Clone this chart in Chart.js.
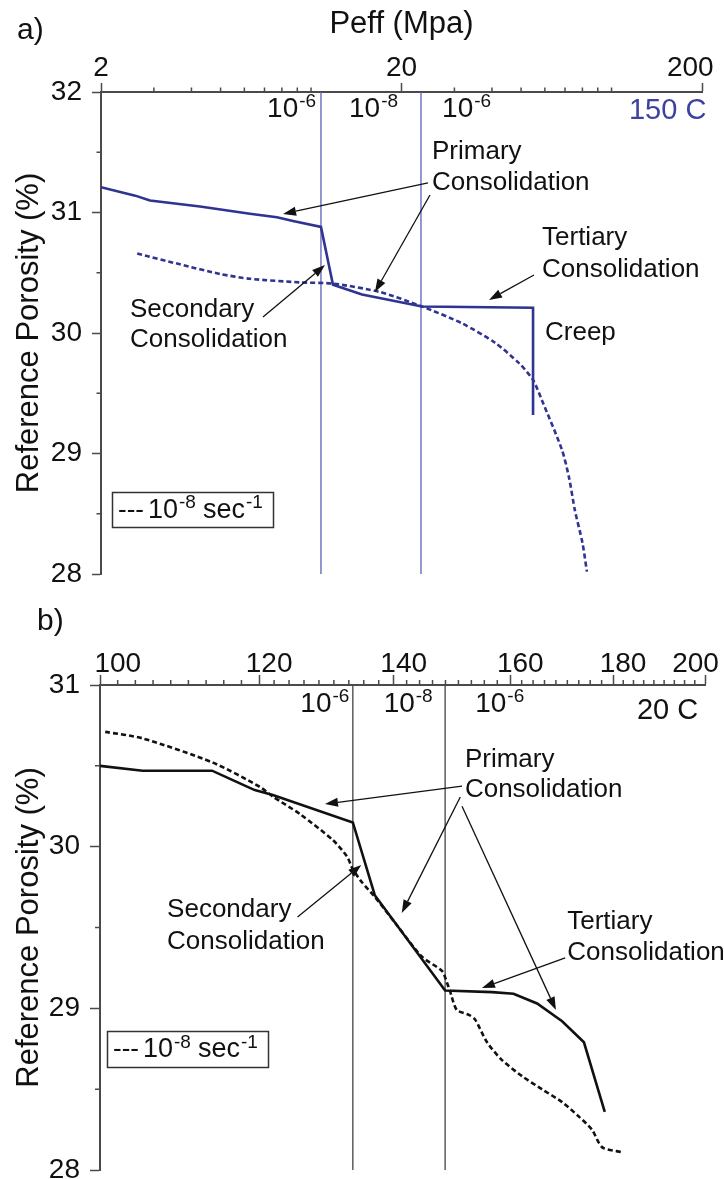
<!DOCTYPE html>
<html>
<head>
<meta charset="utf-8">
<script src="https://cdn.jsdelivr.net/npm/chart.js@4.4.1/dist/chart.umd.min.js"></script>
<style>
  html, body { margin: 0; padding: 0; background: #fff; }
  #wrap { width: 724px; height: 1179px; position: relative; overflow: hidden; }
  canvas { display: block; }
</style>
</head>
<body>
<div id="wrap">
  <canvas id="chartA" width="724" height="590"></canvas>
  <canvas id="chartB" width="724" height="589"></canvas>
</div>
<script>
const FONT = "'Liberation Sans', Arial, Helvetica, sans-serif";

// ---------- Panel a: 150 C ----------
const peffSolidA = [2.0, 2.6, 2.91, 4.27, 6.26, 7.70, 8.71, 10.79, 11.83, 14.78, 23.4, 54.8, 54.8];
const porSolidA  = [31.21, 31.14, 31.10, 31.05, 30.99, 30.96, 30.93, 30.88, 30.40, 30.32, 30.22, 30.21, 29.32];
const peffDashA  = [2.64, 3.66, 4.98, 6.26, 9.19, 11.83, 16.96, 23.4, 31.8, 40.9, 49.2, 54.8, 58.7, 68.4, 72.2, 75.5, 80.0, 82.8];
const porDashA   = [30.66, 30.57, 30.49, 30.45, 30.42, 30.41, 30.34, 30.22, 30.08, 29.92, 29.75, 29.61, 29.44, 29.03, 28.80, 28.53, 28.26, 28.02];
const rateStepsA = [10.79, 23.22];
const xTicksA = [2, 20, 200];
const xTickLabelsA = ['2', '20', '200'];
const xMinorA = [3, 4, 5, 6, 7, 8, 9, 10, 30, 40, 50, 60, 70, 80, 90, 100];
const yTicksA = [28, 29, 30, 31, 32];
const yTickLabelsA = ['28', '29', '30', '31', '32'];
const yMinorA = [28.5, 29.5, 30.5, 31.5];

// ---------- Panel b: 20 C ----------
const peffSolidB = [100, 105.0, 113.7, 116.5, 119.4, 121.9, 133.6, 137.0, 148.5, 156.7, 160.6, 165.0, 169.8, 174.1, 178.3];
const porSolidB  = [30.50, 30.47, 30.47, 30.41, 30.35, 30.32, 30.15, 29.70, 29.11, 29.10, 29.09, 29.03, 28.92, 28.79, 28.36];
const peffDashB  = [100.6, 105.0, 113.8, 120.1, 121.9, 125.8, 130.6, 132.7, 133.6, 135.0, 137.0, 140.2, 144.6, 148.0, 148.8, 149.3, 150.5, 152.6, 153.7, 155.8, 158.5, 162.2, 165.9, 169.8, 173.1, 175.7, 177.8, 181.9];
const porDashB   = [30.71, 30.67, 30.52, 30.37, 30.31, 30.20, 30.04, 29.94, 29.86, 29.78, 29.69, 29.53, 29.32, 29.23, 29.16, 29.11, 28.99, 28.96, 28.93, 28.79, 28.68, 28.58, 28.50, 28.42, 28.33, 28.25, 28.14, 28.11];
const rateStepsB = [133.6, 148.5];
const xTicksB = [100, 120, 140, 160, 180, 200];
const xTickLabelsB = ['100', '120', '140', '160', '180', '200'];
const yTicksB = [28, 29, 30, 31];
const yTickLabelsB = ['28', '29', '30', '31'];
const yMinorB = [28.5, 29.5, 30.5];

// minor ticks of panel b: nine equal log sub-steps between labelled ticks
const xMinorB = [];
for (let i = 0; i < xTicksB.length - 1; i++) {
  const a = xTicksB[i], b = xTicksB[i + 1];
  for (let k = 1; k < 9; k++) xMinorB.push(a * Math.pow(b / a, k / 9));
}

function xy(xs, ys) { return xs.map((x, i) => ({ x, y: ys[i] })); }

function setFont(ctx, size) { ctx.font = size + 'px ' + FONT; }

function text(ctx, s, x, y, size, color, align) {
  setFont(ctx, size);
  ctx.fillStyle = color;
  ctx.textAlign = align || 'left';
  ctx.textBaseline = 'middle';
  ctx.fillText(s, x, y);
  return ctx.measureText(s).width;
}

// base with a raised exponent, e.g. 10^-6; returns the drawn width
function power(ctx, x, y, base, sup, size, supSize, color) {
  const w = text(ctx, base, x, y, size, color);
  const w2 = text(ctx, sup, x + w + 1, y - size * 0.27, supSize, color);
  return w + 1 + w2;
}

function arrow(ctx, x1, y1, x2, y2) {
  const a = Math.atan2(y2 - y1, x2 - x1);
  const L = 13, W = 4.5;
  const bx = x2 - L * Math.cos(a), by = y2 - L * Math.sin(a);
  ctx.beginPath();
  ctx.moveTo(x1, y1);
  ctx.lineTo(bx, by);
  ctx.stroke();
  ctx.beginPath();
  ctx.moveTo(x2, y2);
  ctx.lineTo(bx + W * Math.sin(a), by - W * Math.cos(a));
  ctx.lineTo(bx - W * Math.sin(a), by + W * Math.cos(a));
  ctx.closePath();
  ctx.fill();
}

// short minor ticks, rate labels, notes, arrows and the key box
const notesPlugin = {
  id: 'notes',
  afterDraw(chart, args, o) {
    const ctx = chart.ctx, ca = chart.chartArea;
    const X = v => chart.scales.x.getPixelForValue(v);
    const Y = v => chart.scales.y.getPixelForValue(v);
    ctx.save();

    ctx.strokeStyle = o.axisColor;
    ctx.lineWidth = 1.5;
    ctx.beginPath();
    o.minorX.forEach(v => { const x = X(v); ctx.moveTo(x, ca.top); ctx.lineTo(x, ca.top - o.minorLen); });
    o.minorY.forEach(v => { const y = Y(v); ctx.moveTo(ca.left, y); ctx.lineTo(ca.left - o.minorLen, y); });
    ctx.stroke();

    o.rates.forEach(r => power(ctx, X(r.x), Y(r.y), '10', r.sup, 28, 19, '#111'));
    text(ctx, o.temp.text, X(o.temp.x), Y(o.temp.y), 29, o.temp.color);

    o.notes.forEach(n => n.lines.forEach((s, i) => text(ctx, s, X(n.x), Y(n.y) + i * n.gap, 26, '#111')));

    ctx.strokeStyle = '#111';
    ctx.fillStyle = '#111';
    ctx.lineWidth = 1.3;
    o.arrows.forEach(a => arrow(ctx, X(a.from[0]), Y(a.from[1]), X(a.to[0]), Y(a.to[1])));

    const k = o.key;
    const kx = ca.left + k.dx, ky = ca.top + k.dy;
    ctx.strokeStyle = '#333';
    ctx.lineWidth = 1.5;
    ctx.strokeRect(kx + 0.5, ky + 0.5, k.w, k.h);
    const cy = ky + k.h / 2 + 1;
    text(ctx, '---', kx + 6, cy, 26, '#111');
    const w = power(ctx, kx + 36, cy, '10', '-8', 27, 19, '#111');
    power(ctx, kx + 36 + w + 7, cy, 'sec', '-1', 27, 19, '#111');

    text(ctx, o.panel.text, o.panel.x, o.panel.y, 30, '#111');
    ctx.restore();
  }
};

function makeChart(id, s) {
  const grid = {
    display: true, drawOnChartArea: false, drawTicks: true,
    tickLength: s.majorLen, tickWidth: 1.5, tickColor: s.axisColor, color: s.axisColor
  };
  const border = { display: true, color: s.axisColor, width: 2 };
  const tickFont = { family: FONT, size: 28, lineHeight: 1 };
  return new Chart(document.getElementById(id), {
    type: 'line',
    data: {
      datasets: [
        ...s.rateSteps.map(v => ({
          data: [{ x: v, y: s.yMin }, { x: v, y: s.yMax }],
          borderColor: s.rateColor, borderWidth: 1.3, pointRadius: 0, order: 3
        })),
        { data: xy(s.dashX, s.dashY), borderColor: s.lineColor, borderWidth: 2.6,
          borderDash: [5, 3], pointRadius: 0, tension: 0.25, order: 2 },
        { data: xy(s.solidX, s.solidY), borderColor: s.lineColor, borderWidth: 2.6,
          pointRadius: 0, tension: 0, order: 1 }
      ]
    },
    options: {
      responsive: false, animation: false, devicePixelRatio: 1,
      layout: { padding: s.padding },
      plugins: { legend: { display: false }, tooltip: { enabled: false }, notes: s.notes },
      scales: {
        x: {
          type: 'logarithmic', position: 'top', min: s.xMin, max: s.xMax,
          afterBuildTicks: sc => { sc.ticks = s.xTicks.map(v => ({ value: v })); },
          afterFit: sc => { sc.height = s.xAxisHeight; sc.paddingLeft = 0; sc.paddingRight = 0; },
          ticks: {
            font: tickFont, color: '#111', padding: s.xTickPad, labelOffset: s.xLabelOffset,
            maxRotation: 0, minRotation: 0, autoSkip: false,
            callback: (v, i) => ' '.repeat(s.xLead[i]) + s.xLabels[i] + ' '.repeat(s.xTrail[i])
          },
          grid, border,
          title: { display: !!s.xTitle, text: s.xTitle, color: '#111',
                   font: { family: FONT, size: 31 }, padding: { top: 6, bottom: 0 } }
        },
        y: {
          type: 'linear', position: 'left', min: s.yMin, max: s.yMax,
          afterBuildTicks: sc => { sc.ticks = s.yTicks.map(v => ({ value: v })); },
          afterFit: sc => { sc.width = s.yAxisWidth; sc.paddingTop = 0; sc.paddingBottom = 0; },
          ticks: { font: tickFont, color: '#111', padding: 10,
                   callback: (v, i) => s.yLabels[i] },
          grid, border,
          title: { display: true, text: 'Reference Porosity (%)', color: '#111',
                   font: { family: FONT, size: 31 }, padding: { top: 11, bottom: 0 } }
        }
      }
    },
    plugins: [notesPlugin]
  });
}

const BLUE = '#2f3391';

makeChart('chartA', {
  solidX: peffSolidA, solidY: porSolidA, dashX: peffDashA, dashY: porDashA,
  rateSteps: rateStepsA, lineColor: BLUE, rateColor: '#5c60b8', axisColor: '#4a4a4a',
  xMin: 2, xMax: 200, yMin: 28, yMax: 32,
  xTicks: xTicksA, xLabels: xTickLabelsA, xLead: [0, 0, 0], xTrail: [0, 0, 3],
  yTicks: yTicksA, yLabels: yTickLabelsA,
  xTitle: 'Peff (Mpa)', xAxisHeight: 92, yAxisWidth: 101,
  xTickPad: 1, xLabelOffset: 0, majorLen: 9,
  padding: { left: 0, top: 0, right: 22, bottom: 16 },
  notes: {
    axisColor: '#4a4a4a', minorLen: 4.5, minorX: xMinorA, minorY: yMinorA,
    rates: [{ x: 7.14, y: 31.86, sup: '-6' }, { x: 13.38, y: 31.86, sup: '-8' }, { x: 27.29, y: 31.86, sup: '-6' }],
    temp: { text: '150 C', x: 114.3, y: 31.846, color: '#3d41a0' },
    notes: [
      { x: 25.27, y: 31.50, gap: 31, lines: ['Primary', 'Consolidation'] },
      { x: 2.497, y: 30.19, gap: 30, lines: ['Secondary', 'Consolidation'] },
      { x: 58.7, y: 30.79, gap: 32, lines: ['Tertiary', 'Consolidation'] },
      { x: 60.05, y: 30.0, gap: 0, lines: ['Creep'] }
    ],
    arrows: [
      { from: [24.5, 31.245], to: [8.07, 30.988] },
      { from: [24.88, 31.145], to: [16.32, 30.34] },
      { from: [6.92, 30.133], to: [11.13, 30.564] },
      { from: [55.2, 30.481], to: [39.1, 30.274] }
    ],
    key: { dx: 11, dy: 400, w: 161, h: 35 },
    panel: { text: 'a)', x: 17, y: 31 }
  }
});

makeChart('chartB', {
  solidX: peffSolidB, solidY: porSolidB, dashX: peffDashB, dashY: porDashB,
  rateSteps: rateStepsB, lineColor: '#111', rateColor: '#444', axisColor: '#4a4a4a',
  xMin: 100, xMax: 200, yMin: 28, yMax: 31,
  xTicks: xTicksB, xLabels: xTickLabelsB, xLead: [2, 0, 0, 0, 0, 0], xTrail: [0, 0, 0, 0, 0, 5],
  yTicks: yTicksB, yLabels: yTickLabelsB,
  xTitle: '', xAxisHeight: 95, yAxisWidth: 100,
  xTickPad: -3, xLabelOffset: 10, majorLen: 10,
  padding: { left: 0, top: 0, right: 19, bottom: 9 },
  notes: {
    axisColor: '#4a4a4a', minorLen: 5, minorX: xMinorB, minorY: yMinorB,
    rates: [{ x: 125.8, y: 30.8825, sup: '-6' }, { x: 138.4, y: 30.8825, sup: '-8' }, { x: 153.7, y: 30.8825, sup: '-6' }],
    temp: { text: '20 C', x: 185.0, y: 30.839, color: '#111' },
    notes: [
      { x: 151.9, y: 30.536, gap: 30, lines: ['Primary', 'Consolidation'] },
      { x: 107.99, y: 29.61, gap: 32, lines: ['Secondary', 'Consolidation'] },
      { x: 170.8, y: 29.534, gap: 31, lines: ['Tertiary', 'Consolidation'] }
    ],
    arrows: [
      { from: [151.4, 30.375], to: [129.4, 30.264] },
      { from: [151.1, 30.307], to: [141.3, 29.59] },
      { from: [151.4, 30.25], to: [168.6, 28.99] },
      { from: [125.4, 29.565], to: [134.9, 29.887] },
      { from: [170.4, 29.312], to: [154.9, 29.126] }
    ],
    key: { dx: 7, dy: 346, w: 161, h: 36 },
    panel: { text: 'b)', x: 37, y: 32 }
  }
});
</script>
</body>
</html>
